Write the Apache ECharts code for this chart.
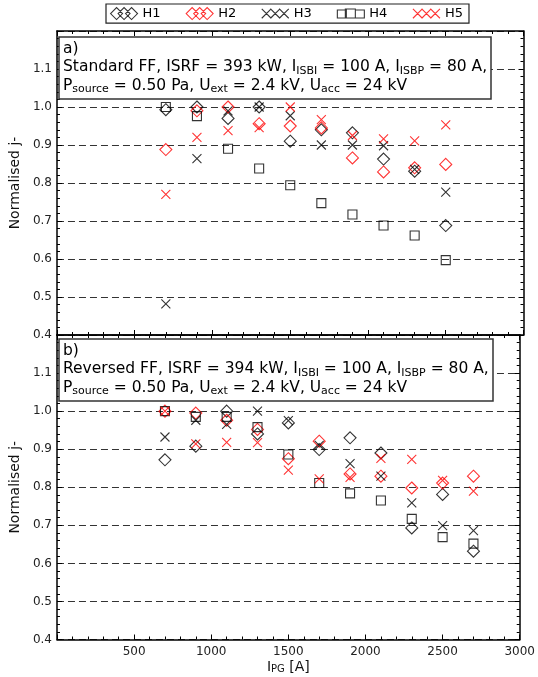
<!DOCTYPE html>
<html>
<head>
<meta charset="utf-8">
<script src="https://cdn.jsdelivr.net/npm/echarts@6/dist/echarts.min.js"></script>
<style>html,body{margin:0;padding:0;background:#fff;}#chart{width:538px;height:677px;}</style>
</head>
<body>
<div id="chart"></div>
<script>
// ---- data ----
const seriesNames = ['H1', 'H2', 'H3', 'H4', 'H5'];
const xA = [700, 900, 1100, 1300, 1500, 1700, 1900, 2100, 2300, 2500];
const xB = [700, 900, 1100, 1300, 1500, 1700, 1900, 2100, 2300, 2500, 2700];

const H1a = [0.993, 1.0, 0.970, 1.0, 0.910, 0.940, 0.932, 0.863, 0.831, 0.688];
const H2a = [0.888, 0.990, 1.0, 0.956, 0.950, 0.945, 0.866, 0.829, 0.840, 0.849];
const H3a = [0.482, 0.864, 0.990, 1.0, 0.977, 0.900, 0.900, 0.898, 0.836, 0.776];
const H4a = [1.0, 0.976, 0.890, 0.838, 0.794, 0.747, 0.717, 0.688, 0.662, 0.597];
const H5a = [0.770, 0.920, 0.938, 0.946, 1.0, 0.967, 0.925, 0.916, 0.911, 0.953];

const H1b = [0.872, 0.908, 1.0, 0.940, 0.969, 0.899, 0.930, 0.890, 0.693, 0.781, 0.632];
const H2b = [1.0, 0.995, 0.976, 0.952, 0.875, 0.921, 0.835, 0.829, 0.798, 0.811, 0.829];
const H3b = [0.932, 0.976, 0.965, 1.0, 0.975, 0.910, 0.862, 0.829, 0.759, 0.699, 0.686];
const H4b = [1.0, 0.985, 0.985, 0.958, 0.886, 0.811, 0.784, 0.765, 0.717, 0.669, 0.652];
const H5b = [1.0, 0.914, 0.918, 0.917, 0.845, 0.822, 0.826, 0.876, 0.873, 0.818, 0.790];

const xTicks = [500, 1000, 1500, 2000, 2500, 3000];
const yTicks = [0.4, 0.5, 0.6, 0.7, 0.8, 0.9, 1.0, 1.1];

const annotA = 'a)\nStandard FF, ISRF = 393 kW, I{s|ISBI} = 100 A, I{s|ISBP} = 80 A,\nP{s|source} = 0.50 Pa, U{s|ext} = 2.4 kV, U{s|acc} = 24 kV';
const annotB = 'b)\nReversed FF, ISRF = 394 kW, I{s|ISBI} = 100 A, I{s|ISBP} = 80 A,\nP{s|source} = 0.50 Pa, U{s|ext} = 2.4 kV, U{s|acc} = 24 kV';

// ---- styling ----
const FONT = 'DejaVu Sans';
const colors = {H1: '#000000', H2: '#ff0000', H3: '#000000', H4: '#000000', H5: '#ff0000'};
const crossPath = 'path://M0,0L10,10M0,10L10,0';
const symbols = {H1: 'diamond', H2: 'diamond', H3: crossPath, H4: 'rect', H5: crossPath};
const sizes = {H1: 12, H2: 12, H3: 9, H4: 9, H5: 9};
const legendIcons = {
  H1: 'path://M0,6L6,0L12,6L6,12Z M7.5,6L13.5,0L19.5,6L13.5,12Z M15,6L21,0L27,6L21,12Z',
  H2: 'path://M0,6L6,0L12,6L6,12Z M7.5,6L13.5,0L19.5,6L13.5,12Z M15,6L21,0L27,6L21,12Z',
  H3: 'path://M2,2L10,10M2,10L10,2 M9.5,2L17.5,10M9.5,10L17.5,2 M17,2L25,10M17,10L25,2',
  H4: 'path://M0,3H9V11H0Z M8,2H18V11H8Z M18,3H27V11H18Z',
  H5: 'path://M2,2L10,10M2,10L10,2 M9.5,2L17.5,10M9.5,10L17.5,2 M17,2L25,10M17,10L25,2'
};

const chart = echarts.init(document.getElementById('chart'), null, {renderer: 'canvas'});

function xAxisDef(gridIndex, position, showLabels) {
  return {
    type: 'value', gridIndex, position, min: 0, max: 3000, interval: 500,
    axisLine: {show: true, onZero: false, lineStyle: {color: '#000', width: 1.5}},
    axisTick: {show: true, inside: true, length: 5, lineStyle: {color: '#000'}},
    minorTick: {show: true, splitNumber: 5, length: 3, lineStyle: {color: '#000'}},
    splitLine: {show: false},
    axisLabel: {
      show: showLabels, margin: 6, fontFamily: FONT, fontSize: 12, color: '#222',
      formatter: v => (xTicks.indexOf(v) >= 0 ? String(v) : '')
    }
  };
}
function yAxisDef(gridIndex, position, showLabels) {
  return {
    type: 'value', gridIndex, position, min: 0.4, max: 1.2, interval: 0.1,
    axisLine: {show: true, onZero: false, lineStyle: {color: '#000', width: 1.5}},
    axisTick: {show: true, inside: true, length: 5, lineStyle: {color: '#000'}},
    minorTick: {show: true, splitNumber: 5, length: 3, lineStyle: {color: '#000'}},
    splitLine: {show: showLabels, lineStyle: {color: '#333', type: [7, 4], width: 1}},
    axisLabel: {
      show: showLabels, margin: 5, fontFamily: FONT, fontSize: 12, color: '#222',
      formatter: v => {
        const r = Math.round(v * 10) / 10;
        return yTicks.indexOf(r) >= 0 ? r.toFixed(1) : '';
      }
    },
    name: showLabels ? 'Normalised j-' : '',
    nameLocation: 'middle', nameGap: 29,
    nameTextStyle: {fontFamily: FONT, fontSize: 14, color: '#111'}
  };
}

const xAxes = [
  xAxisDef(0, 'bottom', false),
  xAxisDef(0, 'top', false),
  Object.assign(xAxisDef(1, 'bottom', true), {
    name: 'I{s|PG} [A]', nameLocation: 'middle', nameGap: 21,
    nameTextStyle: {fontFamily: FONT, fontSize: 14, color: '#111',
      rich: {s: {fontFamily: FONT, fontSize: 10, lineHeight: 10, verticalAlign: 'bottom', color: '#111'}}}
  }),
  xAxisDef(1, 'top', false)
];
const yAxes = [
  yAxisDef(0, 'left', true),
  yAxisDef(0, 'right', false),
  yAxisDef(1, 'left', true),
  yAxisDef(1, 'right', false)
];

const panelData = [
  {x: xA, vals: {H1: H1a, H2: H2a, H3: H3a, H4: H4a, H5: H5a}, xi: 0, yi: 0},
  {x: xB, vals: {H1: H1b, H2: H2b, H3: H3b, H4: H4b, H5: H5b}, xi: 2, yi: 2}
];
const series = [];
panelData.forEach(p => {
  seriesNames.forEach(n => {
    series.push({
      name: n, type: 'scatter', xAxisIndex: p.xi, yAxisIndex: p.yi,
      symbol: symbols[n], symbolSize: sizes[n],
      itemStyle: {color: 'transparent', borderColor: colors[n], borderWidth: 1.1},
      emphasis: {disabled: true},
      data: p.x.map((xv, i) => [xv, p.vals[n][i]])
    });
  });
});

const richAnn = {s: {fontFamily: FONT, fontSize: 11, lineHeight: 11, verticalAlign: 'bottom', color: '#000'}};
function annTitle(text, top) {
  return {
    text, left: 59, top, padding: [3, 4, 4, 4],
    borderColor: '#333', borderWidth: 1.5, backgroundColor: '#fff',
    textStyle: {fontFamily: FONT, fontSize: 15.5, fontWeight: 'normal', color: '#000', lineHeight: 18.3, rich: richAnn}
  };
}

chart.setOption({
  backgroundColor: '#fff',
  animation: false,
  title: [annTitle(annotA, 37), annTitle(annotB, 339)],
  legend: {
    left: 106, top: 4, padding: [3, 6, 3, 4],
    borderColor: '#222', borderWidth: 1.2,
    itemWidth: 27, itemHeight: 12, itemGap: 25,
    textStyle: {fontFamily: FONT, fontSize: 13, color: '#000'},
    selectedMode: false,
    data: seriesNames.map(n => ({
      name: n, icon: legendIcons[n],
      itemStyle: {color: 'transparent', borderColor: colors[n], borderWidth: 1.1}
    }))
  },
  grid: [
    {left: 52.5, right: 14.5, top: 31, height: 304, show: false},
    {left: 52.5, right: 14.5, top: 335, height: 304.5, show: false}
  ],
  xAxis: xAxes,
  yAxis: yAxes,
  series
});
</script>
</body>
</html>
